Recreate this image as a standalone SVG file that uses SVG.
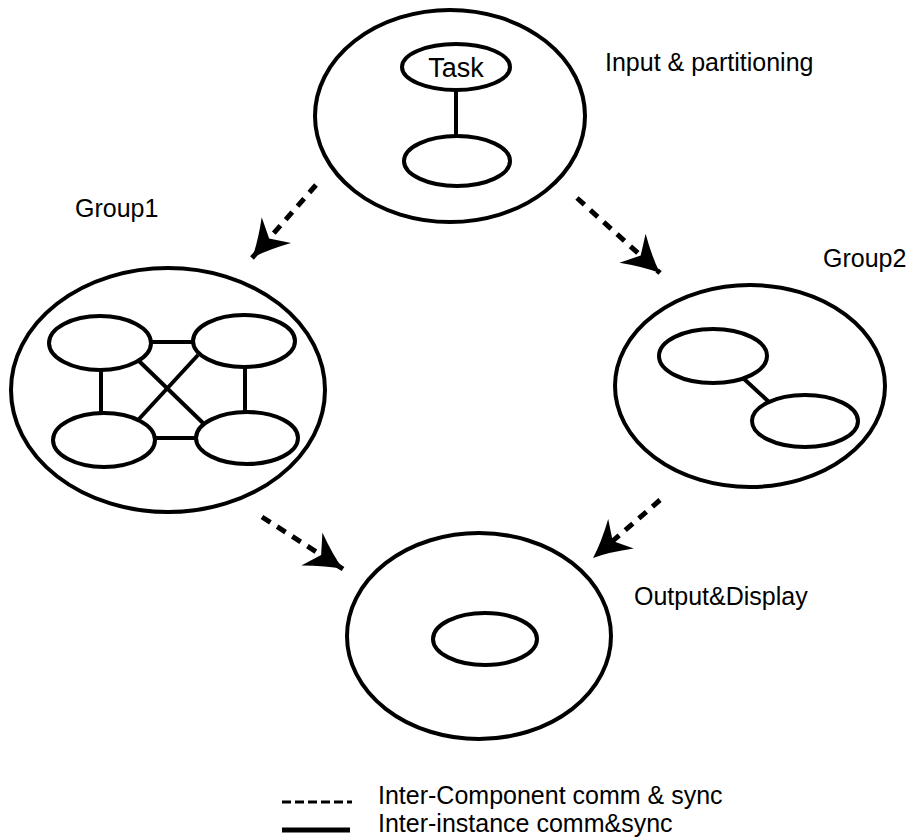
<svg xmlns="http://www.w3.org/2000/svg" width="915" height="840" viewBox="0 0 915 840">
  <style>
    .shape { fill: none; stroke: #000; stroke-width: 4; }
    .link { stroke: #000; stroke-width: 4; fill: none; }
    .flow { stroke: #000; stroke-width: 5; fill: none; stroke-dasharray: 10 8; marker-end: url(#barb); }
    .label { font-family: "Liberation Sans", Arial, Helvetica, sans-serif; font-size: 25px; fill: #000; }
    .task { font-family: "Liberation Sans", Arial, Helvetica, sans-serif; font-size: 27px; fill: #000; text-anchor: middle; }
  </style>
  <defs>
    <!-- barbed arrowhead, tip at the path end -->
    <marker id="barb" viewBox="-40 -22 42 44" refX="0" refY="0" markerWidth="42" markerHeight="44" markerUnits="userSpaceOnUse" orient="auto">
      <path d="M0,0 Q-16,-6 -37,-19.5 L-26,0 L-37,19.5 Q-16,6 0,0 Z" fill="#000"/>
    </marker>
  </defs>
  <rect width="915" height="840" fill="#fff"/>

  <!-- Input & partitioning component -->
  <g id="input">
    <ellipse class="shape" cx="450" cy="116" rx="135" ry="106"/>
    <ellipse class="shape" cx="456" cy="67" rx="54" ry="23"/>
    <text class="task" x="456" y="77">Task</text>
    <ellipse class="shape" cx="457" cy="161" rx="53" ry="25"/>
    <line class="link" x1="456" y1="90" x2="456" y2="136"/>
    <text class="label" x="605" y="71">Input &amp; partitioning</text>
  </g>

  <!-- Group1 component: four fully connected instances -->
  <g id="group1">
    <ellipse class="shape" cx="168" cy="390" rx="157" ry="122"/>
    <ellipse class="shape" cx="100" cy="343" rx="51" ry="27"/>
    <ellipse class="shape" cx="244" cy="341" rx="51" ry="26"/>
    <ellipse class="shape" cx="104" cy="440" rx="51" ry="27"/>
    <ellipse class="shape" cx="247" cy="438" rx="51" ry="26"/>
    <line class="link" x1="151" y1="342" x2="193" y2="342"/>
    <line class="link" x1="155" y1="438" x2="196" y2="438"/>
    <line class="link" x1="101" y1="370" x2="101" y2="413"/>
    <line class="link" x1="245" y1="367" x2="245" y2="412"/>
    <line class="link" x1="139" y1="361" x2="204" y2="424"/>
    <line class="link" x1="198" y1="355" x2="139" y2="419"/>
    <text class="label" x="75" y="217">Group1</text>
  </g>

  <!-- Group2 component: two linked instances -->
  <g id="group2">
    <ellipse class="shape" cx="750" cy="386" rx="135" ry="101"/>
    <ellipse class="shape" cx="713" cy="356" rx="54" ry="27"/>
    <ellipse class="shape" cx="805" cy="421" rx="53" ry="26"/>
    <line class="link" x1="743" y1="378" x2="769" y2="402"/>
    <text class="label" x="823" y="267">Group2</text>
  </g>

  <!-- Output & Display component -->
  <g id="output">
    <ellipse class="shape" cx="479" cy="636" rx="132" ry="103"/>
    <ellipse class="shape" cx="485" cy="639" rx="52" ry="26"/>
    <text class="label" x="634" y="605">Output&amp;Display</text>
  </g>

  <!-- inter-component flows -->
  <g id="connectors">
    <line class="flow" x1="316" y1="185" x2="252" y2="258"/>
    <line class="flow" x1="577" y1="198" x2="660" y2="273"/>
    <line class="flow" x1="262" y1="517" x2="343" y2="569"/>
    <line class="flow" x1="660" y1="500" x2="593" y2="558"/>
  </g>

  <!-- legend -->
  <g id="legend">
    <line x1="282" y1="802" x2="352" y2="802" stroke="#000" stroke-width="3" stroke-dasharray="9 4"/>
    <text class="label" x="378" y="804">Inter-Component comm &amp; sync</text>
    <line x1="282" y1="830" x2="350" y2="830" stroke="#000" stroke-width="5"/>
    <text class="label" x="378" y="832">Inter-instance comm&amp;sync</text>
  </g>
</svg>
